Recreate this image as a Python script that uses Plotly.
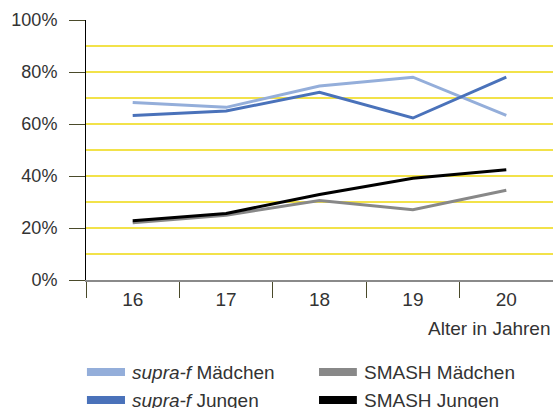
import plotly.graph_objects as go

ages = ["16", "17", "18", "19", "20"]
supra_maedchen = [68.3, 66.4, 74.6, 78.0, 63.3]
supra_jungen = [63.3, 65.0, 72.2, 62.3, 78.0]
smash_maedchen = [22.0, 24.9, 30.6, 27.0, 34.5]
smash_jungen = [22.8, 25.6, 32.9, 39.1, 42.4]

series = [
    ("<i>supra-f</i> Mädchen", supra_maedchen, "#94AEDA"),
    ("SMASH Mädchen", smash_maedchen, "#888888"),
    ("<i>supra-f</i> Jungen", supra_jungen, "#4A72BA"),
    ("SMASH Jungen", smash_jungen, "#000000"),
]

FONT = "Liberation Sans"
FS = 19
TXT = "#333333"
fig = go.Figure()
for name, vals, col in series:
    fig.add_trace(go.Scatter(x=ages, y=vals, mode="lines", name=name,
                             line=dict(color=col, width=3), showlegend=False,
                             hoverinfo="skip"))

# manual legend (2 columns x 2 rows) below the plot, in paper coordinates
leg_cols = [(0.002, 0.0835, 0.094), (0.499, 0.580, 0.591)]
leg_rows = [-0.354, -0.462]
for i, (name, vals, col) in enumerate(series):
    cx0, cx1, tx = leg_cols[i % 2]
    ry = leg_rows[i // 2]
    fig.add_shape(type="line", xref="paper", yref="paper",
                  x0=cx0, x1=cx1, y0=ry, y1=ry,
                  line=dict(color=col, width=8))
    fig.add_annotation(text=name, xref="paper", yref="paper", x=tx, y=ry,
                       xanchor="left", yanchor="middle", showarrow=False,
                       font=dict(family=FONT, size=FS, color=TXT))

fig.update_layout(
    width=553, height=408,
    margin=dict(l=86, r=0, t=20, b=128, autoexpand=False),
    plot_bgcolor="white", paper_bgcolor="white",
    font=dict(family=FONT, size=FS, color=TXT),
    showlegend=False,
    xaxis=dict(type="category", range=[-0.5, 4.5], tickson="boundaries",
               ticks="outside", ticklen=16, tickcolor="#4a4a2a", tickwidth=1,
               ticklabelstandoff=1,
               showline=True, linecolor="#8a8a8a", linewidth=1.5,
               showgrid=False, zeroline=False,
               tickfont=dict(family=FONT, size=FS, color=TXT)),
    yaxis=dict(range=[0, 100], dtick=20, tick0=0, ticksuffix="%",
               ticks="outside", ticklen=16, tickcolor="#4a4a2a", tickwidth=1,
               ticklabelstandoff=8,
               showline=True, linecolor="#000000", linewidth=1,
               showgrid=True, gridcolor="#F2E24A", gridwidth=1.5,
               minor=dict(dtick=10, showgrid=True, gridcolor="#F2E24A", gridwidth=1.5, ticks=""),
               zeroline=False,
               tickfont=dict(family=FONT, size=18, color=TXT)),
)
fig.add_annotation(text="Alter in Jahren", xref="paper", yref="paper",
                   x=0.999, xanchor="right", y=-0.185, yanchor="middle",
                   showarrow=False, font=dict(family=FONT, size=FS, color=TXT))

fig.write_html("out.html", config={"displayModeBar": False},
               post_script="document.body.style.margin='0';document.body.style.overflow='hidden';")
